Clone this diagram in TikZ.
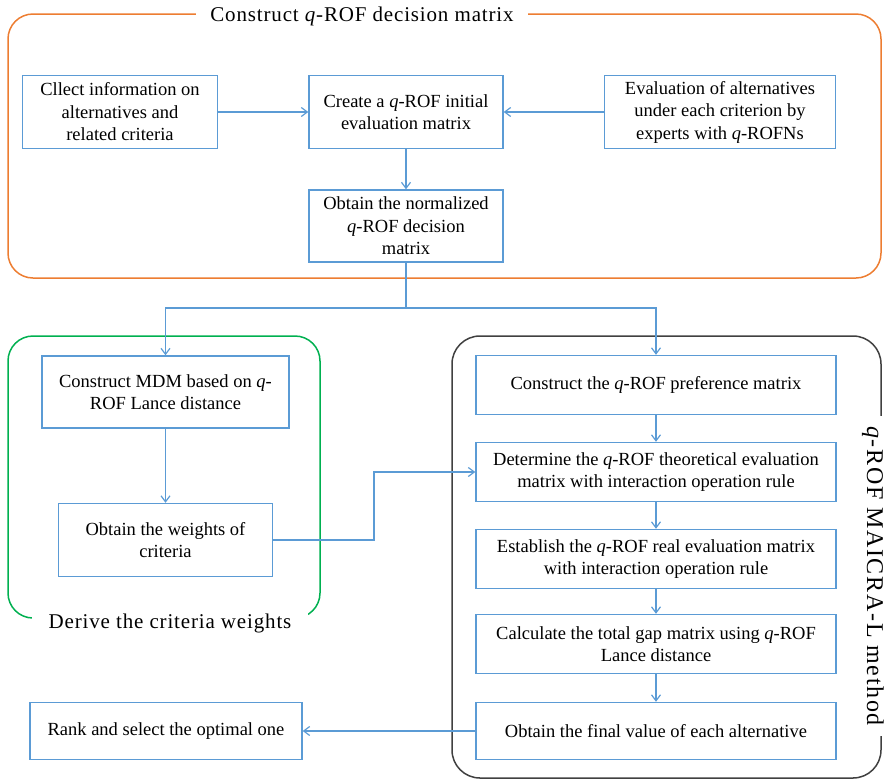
\documentclass[tikz,border=0pt]{standalone}
\usepackage{fontspec}
\setmainfont{Liberation Serif}
\usetikzlibrary{arrows.meta}
\definecolor{stepblue}{RGB}{91,155,213}
\definecolor{frameorange}{RGB}{237,125,49}
\definecolor{framegreen}{RGB}{0,176,80}
\definecolor{framegray}{RGB}{64,64,64}
\newcommand{\qrof}{\textit{q}-ROF}

\begin{document}
\begin{tikzpicture}[x=1pt,y=-1pt,
  stepbox/.style={draw=stepblue, line width=1.4pt, align=center, inner sep=0pt,
    font=\fontsize{18.5}{22.5}\selectfont},
  flow/.style={draw=stepblue, line width=1.2pt, -{Straight Barb[length=6pt,width=9pt]}},
  frame/.style={rounded corners=25pt, line width=1.5pt},
  stagetitle/.style={fill=white, inner ysep=4pt,
    font=\fontsize{21}{24}\selectfont\addfontfeature{LetterSpace=4}}]
  \useasboundingbox (0,0) rectangle (889,780);

  \draw[frame, draw=frameorange] (8,14) rectangle (881,278);
  \draw[frame, draw=framegreen] (8,336) rectangle (320,618);
  \draw[frame, draw=framegray, rounded corners=28pt] (452,336) rectangle (881,778);
  \node[stagetitle, inner xsep=14pt] (ttop) at (362,16) {Construct \textit{q}-ROF decision matrix};
  \node[stagetitle, inner xsep=17pt] (tleft) at (170,623) {Derive the criteria weights};
  \node[stagetitle, inner xsep=10pt, inner ysep=0pt, anchor=base, rotate=-90,
    font=\fontsize{24}{26}\selectfont\addfontfeature{LetterSpace=7}]
    (tright) at (867,576) {\textit{q}-ROF MAICRA-L method};

  \node[stepbox, minimum width=195pt, minimum height=73pt] (collect) at (120,112)
    {Cllect information on\\alternatives and\\related criteria};
  \node[stepbox, minimum width=194pt, minimum height=73pt] (create) at (406,112)
    {Create a \qrof{} initial\\evaluation matrix};
  \node[stepbox, minimum width=231pt, minimum height=73pt] (expert) at (720,112)
    {Evaluation of alternatives\\under each criterion by\\experts with \textit{q}-ROFNs};
  \node[stepbox, minimum width=194pt, minimum height=72pt] (norm) at (406,226)
    {Obtain the normalized\\\qrof{} decision\\matrix};
  \node[stepbox, minimum width=247pt, minimum height=72pt] (mdm) at (165.5,392)
    {Construct MDM based on \textit{q}-\\ROF Lance distance};
  \node[stepbox, minimum width=214pt, minimum height=73pt] (weight) at (165.5,540)
    {Obtain the weights of\\criteria};
  \node[stepbox, minimum width=360pt, minimum height=59pt] (pref) at (656,385)
    {Construct the \qrof{} preference matrix};
  \node[stepbox, minimum width=360pt, minimum height=59pt] (theo) at (656,472)
    {Determine the \qrof{} theoretical evaluation\\matrix with interaction operation rule};
  \node[stepbox, minimum width=360pt, minimum height=59pt] (real) at (656,559)
    {Establish the \qrof{} real evaluation matrix\\with interaction operation rule};
  \node[stepbox, minimum width=360pt, minimum height=59pt] (gap) at (656,644)
    {Calculate the total gap matrix using \qrof{}\\Lance distance};
  \node[stepbox, minimum width=360pt, minimum height=57pt] (final) at (656,731)
    {Obtain the final value of each alternative};
  \node[stepbox, minimum width=272pt, minimum height=57pt] (rank) at (166,731)
    {Rank and select the optimal one};

  \coordinate (fork) at (406,308);
  \coordinate (bend) at (374,540);

  \draw[flow] (collect) -- (create);
  \draw[flow] (expert) -- (create);
  \draw[flow] (create) -- (norm);
  \draw[flow, -] (norm) -- (fork);
  \draw[flow] (fork) -| (mdm);
  \draw[flow] (fork) -| (pref);
  \draw[flow] (mdm) -- (weight);
  \draw[flow] (weight) -- (bend) |- (theo);
  \draw[flow] (pref) -- (theo);
  \draw[flow] (theo) -- (real);
  \draw[flow] (real) -- (gap);
  \draw[flow] (gap) -- (final);
  \draw[flow] (final) -- (rank);
\end{tikzpicture}
\end{document}
